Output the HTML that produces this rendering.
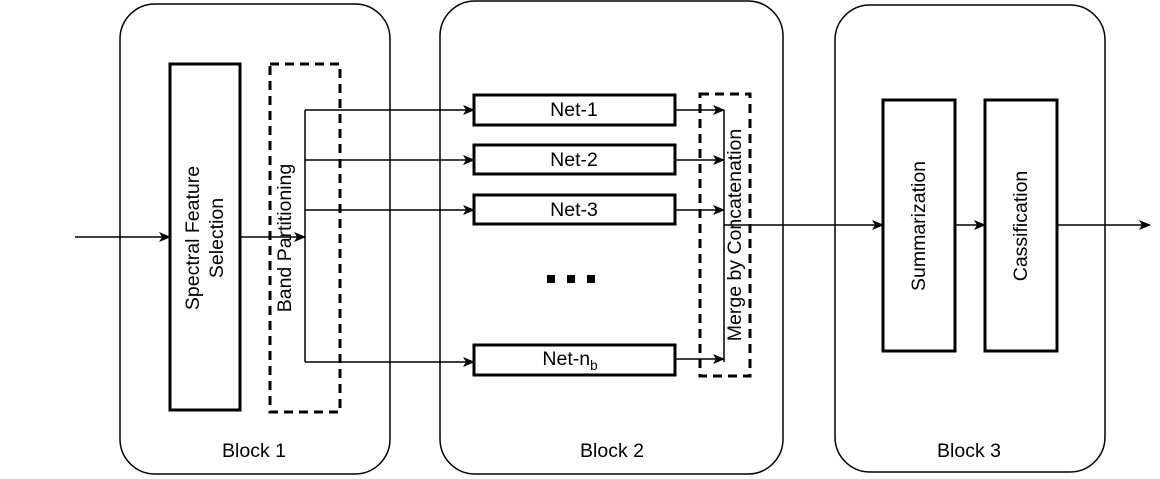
<!DOCTYPE html>
<html><head><style>body{margin:0;background:#fff}svg{display:block}text{font-family:"Liberation Sans",sans-serif;font-size:19.5px;fill:#000}</style></head><body>
<svg width="1160" height="479" viewBox="0 0 1160 479">
<defs><marker id="a" markerWidth="12" markerHeight="10" refX="11" refY="5" orient="auto" markerUnits="userSpaceOnUse"><path d="M0,0 L12,5 L0,10 L3,5 Z" fill="#000"/></marker></defs>
<g fill="none" stroke="#000" stroke-width="1.5">
<rect x="120" y="4" width="270" height="470" rx="35"/>
<rect x="440" y="1" width="343" height="473" rx="35"/>
<rect x="835" y="5" width="270" height="467" rx="35"/>
</g>
<g fill="none" stroke="#000" stroke-width="3">
<rect x="170" y="64" width="70" height="346"/>
<rect x="270" y="64" width="70" height="348" stroke-dasharray="9,6"/>
<rect x="700" y="94" width="50" height="282" stroke-dasharray="9,6"/>
<rect x="474" y="95" width="201" height="30"/>
<rect x="474" y="145" width="201" height="29"/>
<rect x="474" y="195" width="201" height="29"/>
<rect x="474" y="345" width="201" height="30"/>
<rect x="883" y="100" width="72" height="251"/>
<rect x="985" y="100" width="72" height="251"/>
</g>
<g fill="none" stroke="#000" stroke-width="1.5">
<line x1="75" y1="237" x2="170" y2="237" marker-end="url(#a)"/>
<line x1="240" y1="237" x2="305" y2="237" marker-end="url(#a)"/>
<line x1="305" y1="110" x2="305" y2="362"/>
<line x1="305" y1="110" x2="474" y2="110" marker-end="url(#a)"/>
<line x1="305" y1="160" x2="474" y2="160" marker-end="url(#a)"/>
<line x1="305" y1="210" x2="474" y2="210" marker-end="url(#a)"/>
<line x1="305" y1="362" x2="474" y2="362" marker-end="url(#a)"/>
<line x1="724" y1="110" x2="724" y2="362"/>
<line x1="675" y1="110" x2="724" y2="110" marker-end="url(#a)"/>
<line x1="675" y1="160" x2="724" y2="160" marker-end="url(#a)"/>
<line x1="675" y1="210" x2="724" y2="210" marker-end="url(#a)"/>
<line x1="675" y1="359" x2="724" y2="359" marker-end="url(#a)"/>
<line x1="724" y1="225" x2="883" y2="225" marker-end="url(#a)"/>
<line x1="955" y1="225" x2="985" y2="225" marker-end="url(#a)"/>
<line x1="1057" y1="225" x2="1150" y2="225" marker-end="url(#a)"/>
</g>
<g fill="#000"><rect x="547" y="275" width="8" height="8"/><rect x="567" y="275" width="8" height="8"/><rect x="587" y="275" width="8" height="8"/></g>
<text x="574" y="116" text-anchor="middle">Net-1</text>
<text x="574" y="166" text-anchor="middle">Net-2</text>
<text x="574" y="216" text-anchor="middle">Net-3</text>
<text x="570" y="365" text-anchor="middle">Net-n<tspan font-size="13.5" dy="5">b</tspan></text>
<text transform="translate(199,238) rotate(-90)" text-anchor="middle">Spectral Feature</text>
<text transform="translate(223,238) rotate(-90)" text-anchor="middle">Selection</text>
<text transform="translate(291,238) rotate(-90)" text-anchor="middle">Band Partitioning</text>
<text transform="translate(741,235) rotate(-90)" text-anchor="middle">Merge by Concatenation</text>
<text transform="translate(925,226) rotate(-90)" text-anchor="middle">Summarization</text>
<text transform="translate(1027,226) rotate(-90)" text-anchor="middle">Cassification</text>
<text x="254" y="457" text-anchor="middle">Block 1</text>
<text x="612" y="457" text-anchor="middle">Block 2</text>
<text x="969" y="457" text-anchor="middle">Block 3</text>
</svg></body></html>
